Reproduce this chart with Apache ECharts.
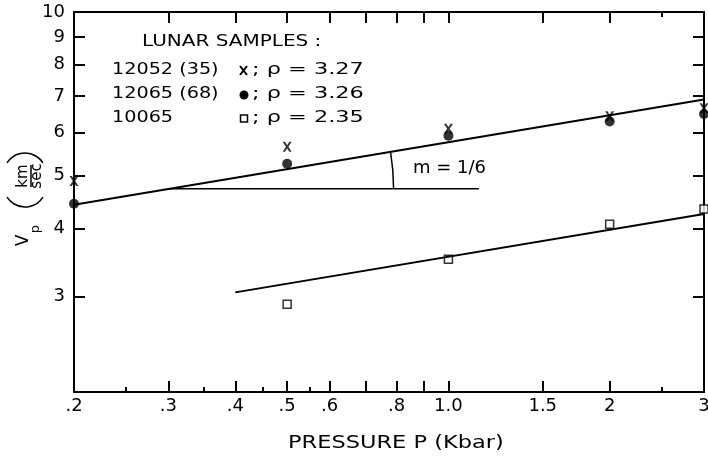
<!DOCTYPE html>
<html>
<head>
<meta charset="utf-8">
<script src="https://cdn.jsdelivr.net/npm/echarts@6/dist/echarts.min.js"></script>
<style>
  html, body { margin: 0; padding: 0; background: #fff; }
  #chart { width: 708px; height: 459px; }
</style>
</head>
<body>
<div id="chart"></div>
<script>
// measured samples (pressure in Kbar, Vp in km/sec)
const pressure = [0.2, 0.5, 1.0, 2, 3];
const vp12052 = [4.89, 5.65, 6.10, 6.43, 6.65];
const vp12065 = [4.44, 5.26, 5.92, 6.29, 6.49];
const pressure10065 = [0.5, 1.0, 2, 3];
const vp10065 = [2.90, 3.51, 4.07, 4.34];

// fitted lines, slope m = 1/6
const fitUpperP = [0.2, 3];
const fitUpperVp = [4.42, 6.90];
const fitLowerP = [0.4, 3];
const fitLowerVp = [3.05, 4.25];
const slopeGuideP = [0.3, 1.14];
const slopeGuideVp = [4.73, 4.73];
const slopeArcP = 0.79;

// axes
const xLabelVals = [0.2, 0.3, 0.4, 0.5, 0.6, 0.8, 1.0, 1.5, 2, 3];
const xLabelText = ['.2', '.3', '.4', '.5', '.6', '.8', '1.0', '1.5', '2', '3'];
const xMajorTicks = [0.3, 0.4, 0.5, 0.6, 0.7, 0.8, 0.9, 1.0, 1.5, 2];
const xMinorTicks = [0.25, 0.35, 0.45, 0.55, 2.5];
const xTopMinorTicks = [2.5];
const yLabelVals = [3, 4, 5, 6, 7, 8, 9, 10];
const yLabelText = ['3', '4', '5', '6', '7', '8', '9', '10'];
const yMajorTicks = [3, 4, 5, 6, 7, 8, 9];

const sampleIds = ['12052 (35)', '12065 (68)', '10065'];
const densities = ['3.27', '3.26', '2.35'];

const FONT = 'DejaVu Sans';
const lg = Math.log10;
const toPairs = (ps, vs) => ps.map((p, i) => [lg(p), lg(vs[i])]);

const xMin = lg(0.2), xMax = lg(3);
const yMin = lg(2), yMax = 1;

const pick = (vals, texts) => (v) => {
  const i = vals.findIndex(t => Math.abs(lg(t) - v) < 1e-6);
  return i < 0 ? '' : texts[i];
};

const xAxisDef = (position, ticks, len, withLabels) => ({
  type: 'value',
  position: position,
  min: xMin,
  max: xMax,
  axisLine: { show: true, onZero: false, lineStyle: { color: '#000', width: 2 } },
  axisTick: { show: true, inside: true, length: len, customValues: ticks.map(lg),
    lineStyle: { color: '#000', width: 2 } },
  axisLabel: withLabels ? {
    show: true, customValues: xLabelVals.map(lg), formatter: pick(xLabelVals, xLabelText),
    margin: 5, color: '#000', fontSize: 18, fontFamily: FONT
  } : { show: false },
  splitLine: { show: false }
});

const yAxisDef = (position, withLabels) => ({
  type: 'value',
  position: position,
  min: yMin,
  max: yMax,
  axisLine: { show: true, onZero: false, lineStyle: { color: '#000', width: 2 } },
  axisTick: { show: true, inside: true, length: 11, customValues: yMajorTicks.map(lg),
    lineStyle: { color: '#000', width: 2 } },
  axisLabel: withLabels ? {
    show: true, customValues: yLabelVals.map(lg), formatter: pick(yLabelVals, yLabelText),
    margin: 9, color: '#000', fontSize: 18, fontFamily: FONT
  } : { show: false },
  splitLine: { show: false }
});

const xMark = 'path://M0,0H2.6L5,3.4L7.4,0H10L6.4,5L10,10H7.4L5,6.6L2.6,10H0L3.6,5Z';

const option = {
  animation: false,
  backgroundColor: '#fff',
  grid: { left: 74, right: 4, top: 12, bottom: 67, containLabel: false, outerBoundsMode: 'none' },
  xAxis: [
    xAxisDef('bottom', xMajorTicks, 11, true),
    xAxisDef('bottom', xMinorTicks, 5, false),
    xAxisDef('top', xMajorTicks, 11, false),
    xAxisDef('top', xTopMinorTicks, 5, false)
  ],
  yAxis: [
    yAxisDef('left', true),
    yAxisDef('right', false)
  ],
  series: [
    {
      name: 'fit upper', type: 'line', data: toPairs(fitUpperP, fitUpperVp),
      showSymbol: false, clip: false, lineStyle: { color: '#000', width: 2 }
    },
    {
      name: 'fit lower', type: 'line', data: toPairs(fitLowerP, fitLowerVp),
      showSymbol: false, clip: false, lineStyle: { color: '#000', width: 2 }
    },
    {
      name: 'slope guide', type: 'line', data: toPairs(slopeGuideP, slopeGuideVp),
      showSymbol: false, clip: false, lineStyle: { color: '#000', width: 1.5 }
    },
    {
      name: '12065', type: 'scatter', data: toPairs(pressure, vp12065),
      symbol: 'circle', symbolSize: 10, clip: false,
      itemStyle: { color: '#000' }
    },
    {
      name: '12052', type: 'scatter', data: toPairs(pressure, vp12052),
      symbol: xMark, symbolSize: [9, 10], clip: false,
      itemStyle: { color: '#000' }
    },
    {
      name: '10065', type: 'scatter', data: toPairs(pressure10065, vp10065),
      symbol: 'rect', symbolSize: 8, clip: false,
      itemStyle: { color: '#fff', borderColor: '#000', borderWidth: 1.5 }
    }
  ]
};

const chart = echarts.init(document.getElementById('chart'));
chart.setOption(option);

// slope arc between the horizontal guide and the upper fit
const toPx = (p, v) => chart.convertToPixel({ xAxisIndex: 0, yAxisIndex: 0 }, [lg(p), lg(v)]);
const c = toPx(slopeGuideP[0], slopeGuideVp[0]);
const a = toPx(fitUpperP[0], fitUpperVp[0]);
const b = toPx(fitUpperP[1], fitUpperVp[1]);
const ang = Math.atan2(b[1] - a[1], b[0] - a[0]);
const r = toPx(slopeArcP, slopeGuideVp[0])[0] - c[0];

const txt = (x, y, text, size, sx) => ({
  type: 'text', x: x, y: y, scaleX: sx || 1,
  style: { text: text, fontSize: size, fontFamily: FONT, fill: '#000',
    align: 'left', verticalAlign: 'middle' }
});

const rowY = [70, 94, 118];
const graphics = [
  { type: 'arc', shape: { cx: c[0], cy: c[1], r: r, startAngle: ang, endAngle: 0, clockwise: true },
    style: { stroke: '#000', lineWidth: 1.5, fill: null } },
  txt(413, 168, 'm = 1/6', 18),
  txt(142, 42, 'LUNAR SAMPLES :', 16, 1.25),
  // legend keys
  { type: 'line', shape: { x1: 240, y1: 66, x2: 247, y2: 75 }, style: { stroke: '#000', lineWidth: 2 } },
  { type: 'line', shape: { x1: 247, y1: 66, x2: 240, y2: 75 }, style: { stroke: '#000', lineWidth: 2 } },
  { type: 'circle', shape: { cx: 244, cy: rowY[1] + 1, r: 4.5 }, style: { fill: '#000' } },
  { type: 'rect', shape: { x: 240.5, y: rowY[2] - 3, width: 7, height: 7 },
    style: { fill: '#fff', stroke: '#000', lineWidth: 1.5 } },
  txt(288, 443, 'PRESSURE P (Kbar)', 18, 1.25),
  {
    // Vp (km/sec), rotated to read bottom to top
    type: 'group', x: 30, y: 200, rotation: Math.PI / 2,
    children: [
      { type: 'text', style: { text: 'V', x: -40.5, y: -6, fontSize: 17, fontFamily: FONT,
          fill: '#000', align: 'center', verticalAlign: 'middle' } },
      { type: 'text', style: { text: 'p', x: -29, y: 6, fontSize: 13, fontFamily: FONT,
          fill: '#000', align: 'center', verticalAlign: 'middle' } },
      { type: 'arc', shape: { cx: 14.2, cy: -5, r: 21.2, startAngle: Math.PI - 1.01,
          endAngle: Math.PI + 1.01, clockwise: true },
        style: { stroke: '#000', lineWidth: 1.5, fill: null } },
      { type: 'text', style: { text: 'km', x: 24, y: -7, fontSize: 15, fontFamily: FONT,
          fill: '#000', align: 'center', verticalAlign: 'middle' } },
      { type: 'line', shape: { x1: 13, y1: 1, x2: 35, y2: 1 },
        style: { stroke: '#000', lineWidth: 1.5 } },
      { type: 'text', style: { text: 'sec', x: 24, y: 7.5, fontSize: 15, fontFamily: FONT,
          fill: '#000', align: 'center', verticalAlign: 'middle' } },
      { type: 'arc', shape: { cx: 25.8, cy: -5, r: 21.2, startAngle: -1.01,
          endAngle: 1.01, clockwise: true },
        style: { stroke: '#000', lineWidth: 1.5, fill: null } }
    ]
  }
];

sampleIds.forEach((id, i) => {
  graphics.push(txt(112, rowY[i], id, 16, 1.2));
  graphics.push(txt(252, rowY[i], '; \u03c1 = ' + densities[i], 16, 1.4));
});

chart.setOption({ graphic: graphics });
</script>
</body>
</html>
